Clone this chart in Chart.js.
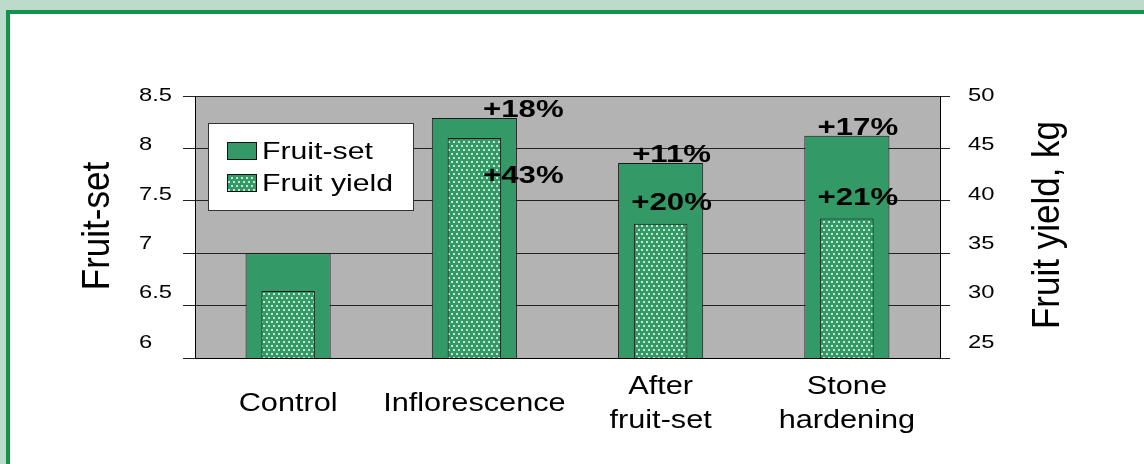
<!DOCTYPE html>
<html>
<head>
<meta charset="utf-8">
<script src="https://cdn.jsdelivr.net/npm/chart.js@4.4.0/dist/chart.umd.min.js"></script>
<style>
    html, body { margin: 0; padding: 0; }
    body { width: 1144px; height: 464px; background: #bddbca; position: relative; overflow: hidden; }
    #frame { position: absolute; left: 6px; top: 10px; right: -10px; bottom: -10px; background: #fff;
             border-top: 4px solid #12924a; border-left: 4px solid #12924a; }
    #chart { position: absolute; left: 0; top: 0; }
</style>
</head>
<body>
<div id="frame"></div>
<canvas id="chart" width="1144" height="464"></canvas>
<script>
// data
const categories = [['Control'], ['Inflorescence'], ['After', 'fruit-set'], ['Stone', 'hardening']];
const fruitSet = [7.0, 8.29, 7.86, 8.12];
const fruitYield = [31.4, 46.0, 37.8, 38.3];
const fruitSetGain = ['', '+18%', '+11%', '+17%'];
const fruitYieldGain = ['', '+43%', '+20%', '+21%'];
const leftTicks = [6, 6.5, 7, 7.5, 8, 8.5];
const rightTicks = [25, 30, 35, 40, 45, 50];

const FONT = 'Arial, "Liberation Sans", sans-serif';

// dotted green fill for the yield bars
function makeDots(ctx) {
    const c = document.createElement('canvas');
    c.width = 10; c.height = 8;
    const p = c.getContext('2d');
    p.fillStyle = '#339966';
    p.fillRect(0, 0, 10, 8);
    p.fillStyle = '#c2e6cf';
    p.fillRect(1, 1, 2, 2); p.fillRect(6, 1, 2, 2);
    p.fillRect(3, 5, 2, 2); p.fillRect(8, 5, 2, 2);
    return ctx.createPattern(c, 'repeat');
}

// text in the original is drawn a bit wide
function wideText(ctx, text, x, y, align, sx) {
    ctx.save();
    ctx.translate(x, y);
    ctx.scale(sx, 1);
    ctx.textAlign = align;
    ctx.fillText(text, 0, 0);
    ctx.restore();
}

function upText(ctx, text, x, y) {
    ctx.save();
    ctx.translate(x, y);
    ctx.rotate(-Math.PI / 2);
    ctx.scale(1, 1.1);
    ctx.textAlign = 'center';
    ctx.textBaseline = 'middle';
    ctx.fillText(text, 0, 0);
    ctx.restore();
}

const ctx = document.getElementById('chart').getContext('2d');
const dots = makeDots(ctx);

// label nudges (pixels) so the % texts sit where they do in the original
const gainNudge = [{ dx: 0, dy: 0 }, { dx: 49, dy: 59 }, { dx: 11, dy: 0 }, { dx: 11, dy: 0 }];

const decorPlugin = {
    id: 'decor',
    beforeDraw(chart) {
        const a = chart.chartArea;
        const c = chart.ctx;
        c.save();
        c.fillStyle = '#b3b3b3';
        c.fillRect(a.left, a.top, a.right - a.left, a.bottom - a.top);
        c.restore();
    },
    afterDraw(chart) {
        const c = chart.ctx;
        const a = chart.chartArea;
        const yL = chart.scales.y, yR = chart.scales.y1, x = chart.scales.x;
        c.save();
        c.fillStyle = '#000';

        // tick labels
        c.font = '19px ' + FONT;
        c.textBaseline = 'middle';
        leftTicks.forEach(v => {
            const py = a.top + (yL.getPixelForValue(v) - a.top) * 0.94;
            wideText(c, String(v), a.left - 56, py, 'left', 1.25);
        });
        rightTicks.forEach(v => {
            const py = a.top + (yR.getPixelForValue(v) - a.top) * 0.94;
            wideText(c, String(v), a.right + 28, py, 'left', 1.25);
        });

        // category labels
        c.font = '26px ' + FONT;
        categories.forEach((lines, i) => {
            const cx = x.getPixelForValue(i);
            const cy = a.bottom + 46;
            lines.forEach((t, j) => {
                wideText(c, t, cx, cy + (j - (lines.length - 1) / 2) * 34, 'center', 1.18);
            });
        });

        // % gains
        c.font = 'bold 24px ' + FONT;
        c.textBaseline = 'alphabetic';
        const mSet = chart.getDatasetMeta(0), mYield = chart.getDatasetMeta(1);
        fruitSetGain.forEach((t, i) => {
            if (!t) return;
            const bar = mSet.data[i];
            wideText(c, t, bar.x + gainNudge[i].dx, bar.y - 1, 'center', 1.3);
        });
        fruitYieldGain.forEach((t, i) => {
            if (!t) return;
            const bar = mYield.data[i];
            wideText(c, t, bar.x + gainNudge[i].dx, bar.y - 14 + gainNudge[i].dy, 'center', 1.3);
        });

        // legend box inside the plot
        const bx = a.left + 13, by = a.top + 27, bw = 206, bh = 88;
        c.fillStyle = '#fff';
        c.fillRect(bx, by, bw, bh);
        c.strokeStyle = '#333';
        c.lineWidth = 1;
        c.strokeRect(bx + 0.5, by + 0.5, bw - 1, bh - 1);
        const items = [{ label: 'Fruit-set', fill: '#339966' }, { label: 'Fruit yield', fill: dots }];
        c.font = '24px ' + FONT;
        c.textBaseline = 'middle';
        items.forEach((it, k) => {
            const sy = by + 19 + k * 32;
            c.fillStyle = it.fill;
            c.fillRect(bx + 19, sy, 30, 18);
            c.strokeStyle = '#111';
            c.strokeRect(bx + 19.5, sy + 0.5, 29, 17);
            c.fillStyle = '#000';
            wideText(c, it.label, bx + 54, sy + 10, 'left', 1.26);
        });

        // axis titles
        c.font = '35px ' + FONT;
        upText(c, 'Fruit-set', 98, (a.top + a.bottom) / 2 - 1);
        upText(c, 'Fruit yield, kg', 1048, (a.top + a.bottom) / 2 - 2);
        c.restore();
    }
};

new Chart(ctx, {
    type: 'bar',
    data: {
        labels: categories,
        datasets: [{
            label: 'Fruit-set',
            data: fruitSet,
            yAxisID: 'y',
            backgroundColor: '#339966',
            borderColor: '#1a1a1a',
            borderWidth: 1,
            barPercentage: 0.457,
            categoryPercentage: 1,
            grouped: false,
            order: 2
        }, {
            label: 'Fruit yield',
            data: fruitYield,
            yAxisID: 'y1',
            backgroundColor: dots,
            borderColor: '#1a1a1a',
            borderWidth: 1,
            barPercentage: 0.287,
            categoryPercentage: 1,
            grouped: false,
            order: 1
        }]
    },
    options: {
        responsive: false,
        animation: false,
        layout: { padding: { left: 183, right: 194, top: 96, bottom: 106 } },
        plugins: { legend: { display: false }, tooltip: { enabled: false } },
        scales: {
            x: {
                grid: { display: false },
                border: { display: true, color: '#000' },
                ticks: { display: false },
                afterFit(s) { s.height = 0; }
            },
            y: {
                position: 'left',
                min: leftTicks[0],
                max: leftTicks[leftTicks.length - 1],
                ticks: { display: false, stepSize: 0.5 },
                grid: { color: '#222', tickLength: 12 },
                border: { color: '#000' },
                afterFit(s) { s.width = 12; }
            },
            y1: {
                position: 'right',
                min: rightTicks[0],
                max: rightTicks[rightTicks.length - 1],
                ticks: { display: false, stepSize: 5 },
                grid: { drawOnChartArea: false, color: '#222', tickLength: 10 },
                border: { color: '#000' },
                afterFit(s) { s.width = 10; }
            }
        }
    },
    plugins: [decorPlugin]
});
</script>
</body>
</html>
